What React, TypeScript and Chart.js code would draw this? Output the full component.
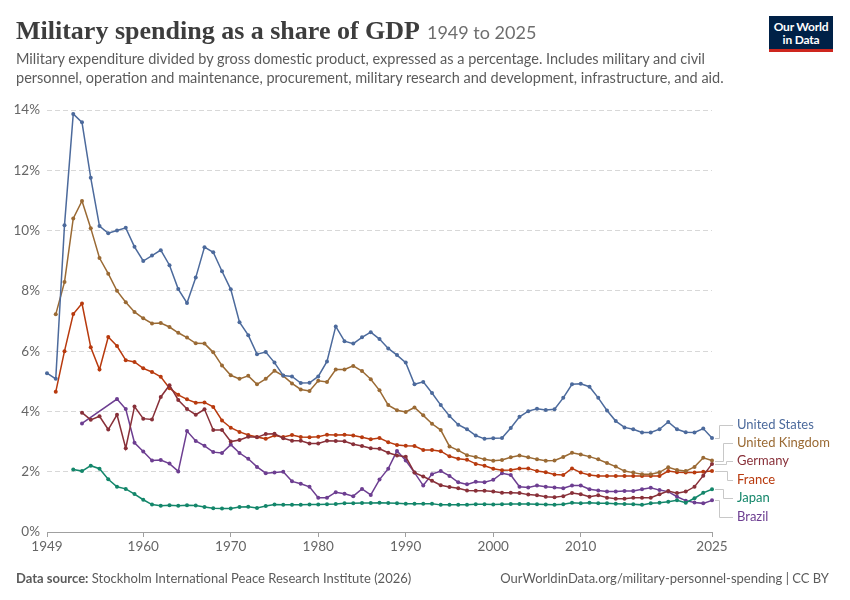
import React, { useEffect, useRef } from "react";
import { Chart, registerables } from "chart.js";

Chart.register(...registerables);

const years = [
  1949, 1950, 1951, 1952, 1953, 1954, 1955, 1956, 1957, 1958, 1959,
  1960, 1961, 1962, 1963, 1964, 1965, 1966, 1967, 1968, 1969,
  1970, 1971, 1972, 1973, 1974, 1975, 1976, 1977, 1978, 1979,
  1980, 1981, 1982, 1983, 1984, 1985, 1986, 1987, 1988, 1989,
  1990, 1991, 1992, 1993, 1994, 1995, 1996, 1997, 1998, 1999,
  2000, 2001, 2002, 2003, 2004, 2005, 2006, 2007, 2008, 2009,
  2010, 2011, 2012, 2013, 2014, 2015, 2016, 2017, 2018, 2019,
  2020, 2021, 2022, 2023, 2024, 2025,
];

const unitedStates = [
  5.27, 5.08, 10.18, 13.87, 13.59, 11.75, 10.15, 9.91, 10.0, 10.09, 9.46,
  8.99, 9.17, 9.35, 8.85, 8.06, 7.6, 8.44, 9.45, 9.28, 8.65,
  8.05, 6.96, 6.53, 5.9, 5.97, 5.62, 5.19, 5.16, 4.94, 4.95,
  5.16, 5.66, 6.82, 6.33, 6.25, 6.46, 6.63, 6.4, 6.09, 5.87,
  5.62, 4.9, 4.98, 4.61, 4.21, 3.85, 3.56, 3.41, 3.2, 3.09,
  3.11, 3.12, 3.45, 3.82, 4.01, 4.09, 4.05, 4.07, 4.45, 4.9,
  4.92, 4.82, 4.45, 4.03, 3.68, 3.47, 3.41, 3.3, 3.3, 3.41,
  3.65, 3.41, 3.31, 3.3, 3.43, 3.12,
];

const unitedKingdom = [
  null, 7.22, 8.29, 10.4, 10.98, 10.08, 9.09, 8.57, 8.0, 7.62, 7.3,
  7.09, 6.92, 6.93, 6.8, 6.61, 6.45, 6.26, 6.25, 5.96, 5.52,
  5.2, 5.08, 5.18, 4.9, 5.08, 5.35, 5.18, 4.93, 4.73, 4.68,
  5.02, 4.98, 5.39, 5.39, 5.51, 5.34, 5.07, 4.7, 4.21, 4.04,
  3.98, 4.13, 3.87, 3.59, 3.38, 2.84, 2.71, 2.55, 2.49, 2.41,
  2.36, 2.39, 2.48, 2.54, 2.48, 2.41, 2.36, 2.37, 2.49, 2.63,
  2.57, 2.5, 2.41, 2.29, 2.17, 2.02, 1.97, 1.92, 1.92, 1.98,
  2.15, 2.06, 2.02, 2.16, 2.46, 2.37,
];

const germany = [
  null, null, null, null, 3.96, 3.72, 3.84, 3.4, 3.89, 2.78, 4.16,
  3.76, 3.73, 4.48, 4.87, 4.38, 4.08, 3.89, 4.07, 3.38, 3.38,
  3.0, 3.05, 3.16, 3.14, 3.25, 3.26, 3.11, 3.03, 3.03, 2.94,
  2.94, 3.03, 3.02, 3.01, 2.91, 2.85, 2.78, 2.76, 2.63, 2.54,
  2.5, 1.97, 1.84, 1.7, 1.55, 1.49, 1.45, 1.38, 1.37, 1.37,
  1.34, 1.3, 1.3, 1.29, 1.24, 1.22, 1.17, 1.15, 1.19, 1.29,
  1.25, 1.17, 1.22, 1.14, 1.1, 1.1, 1.14, 1.14, 1.14, 1.25,
  1.36, 1.29, 1.34, 1.5, 1.87, 2.26,
];

const france = [
  null, 4.65, 6.0, 7.23, 7.58, 6.13, 5.39, 6.47, 6.17, 5.7, 5.64,
  5.43, 5.31, 5.15, 4.77, 4.55, 4.4, 4.29, 4.3, 4.15, 3.7,
  3.46, 3.32, 3.22, 3.15, 3.09, 3.2, 3.15, 3.22, 3.15, 3.14,
  3.16, 3.23, 3.22, 3.23, 3.2, 3.14, 3.08, 3.12, 2.98, 2.89,
  2.86, 2.85, 2.72, 2.72, 2.68, 2.51, 2.43, 2.4, 2.26, 2.2,
  2.1, 2.05, 2.06, 2.11, 2.11, 2.02, 1.98, 1.91, 1.89, 2.11,
  1.97, 1.89, 1.86, 1.86, 1.86, 1.86, 1.86, 1.86, 1.86, 1.86,
  2.02, 1.98, 1.97, 1.97, 2.0, 2.02,
];

const japan = [
  null, null, null, 2.07, 2.02, 2.2, 2.1, 1.75, 1.5, 1.43, 1.26,
  1.07, 0.91, 0.87, 0.89, 0.87, 0.89, 0.88, 0.83, 0.79, 0.78,
  0.78, 0.83, 0.84, 0.8, 0.86, 0.91, 0.9, 0.9, 0.9, 0.91,
  0.91, 0.92, 0.93, 0.95, 0.95, 0.96, 0.96, 0.97, 0.96, 0.95,
  0.94, 0.94, 0.94, 0.94, 0.9, 0.9, 0.9, 0.9, 0.92, 0.92,
  0.91, 0.92, 0.93, 0.93, 0.93, 0.92, 0.91, 0.9, 0.92, 0.97,
  0.95, 0.97, 0.95, 0.95, 0.94, 0.93, 0.92, 0.9, 0.95, 0.97,
  1.0, 1.05, 0.97, 1.12, 1.3, 1.42,
];

const brazil = [
  null, null, null, null, 3.6, null, null, null, 4.41, 4.08, 2.96,
  2.67, 2.37, 2.39, 2.27, 2.01, 3.35, 3.02, 2.86, 2.65, 2.62,
  2.9, 2.62, 2.43, 2.16, 1.95, 1.97, 2.0, 1.68, 1.6, 1.5,
  1.14, 1.14, 1.32, 1.27, 1.19, 1.43, 1.23, 1.74, 2.1, 2.69,
  2.37, 1.97, 1.54, 1.92, 2.02, 1.86, 1.65, 1.58, 1.67, 1.65,
  1.73, 1.95, 1.89, 1.5, 1.48, 1.54, 1.5, 1.48, 1.45, 1.54,
  1.54, 1.42, 1.38, 1.34, 1.34, 1.36, 1.36, 1.42, 1.47, 1.39,
  1.34, 1.17, 1.04, 0.98, 0.95, 1.05,
];

const seriesNames = ["United States", "United Kingdom", "Germany", "France", "Japan", "Brazil"];
const seriesValues = [unitedStates, unitedKingdom, germany, france, japan, brazil];
const seriesColors = ["#4c6a9c", "#9a6a34", "#883039", "#b83a0e", "#13866a", "#6d3e91"];
const connectorX = [719, 723, 726, 727, 723, 719];

const xTickValues = [1949, 1960, 1970, 1980, 1990, 2000, 2010, 2025];
const yTickValues = [0, 2, 4, 6, 8, 10, 12, 14];

const LABEL_X = 737;
const LABEL_GAP = 18.4;

const endLabels = {
  id: "endLabels",
  afterDatasetsDraw(chart: any) {
    const ctx = chart.ctx;
    const items: any[] = chart.data.datasets.map((ds: any, i: number) => {
      const meta = chart.getDatasetMeta(i);
      let p: any = null;
      for (let k = meta.data.length - 1; k >= 0; k--) {
        if (!meta.data[k].skip) {
          p = meta.data[k];
          break;
        }
      }
      return { i, x: p.x, y: p.y, label: ds.label, color: ds.borderColor, ly: p.y };
    });
    const sorted = [...items].sort((a, b) => a.y - b.y);
    let clusters: any[] = sorted.map((it) => ({ items: [it], center: it.y }));
    let changed = true;
    while (changed) {
      changed = false;
      for (let c = 0; c < clusters.length - 1; c++) {
        const a = clusters[c];
        const b = clusters[c + 1];
        const aBottom = a.center + ((a.items.length - 1) * LABEL_GAP) / 2;
        const bTop = b.center - ((b.items.length - 1) * LABEL_GAP) / 2;
        if (bTop - aBottom < LABEL_GAP) {
          const its = a.items.concat(b.items);
          const center = its.reduce((s: number, it: any) => s + it.y, 0) / its.length;
          clusters.splice(c, 2, { items: its, center });
          changed = true;
          break;
        }
      }
    }
    clusters.forEach((cl) =>
      cl.items.forEach((it: any, k: number) => {
        it.ly = cl.center + (k - (cl.items.length - 1) / 2) * LABEL_GAP;
      })
    );
    ctx.save();
    ctx.strokeStyle = "#c8c8c8";
    ctx.lineWidth = 1;
    items.forEach((it) => {
      const vx = connectorX[it.i];
      ctx.beginPath();
      ctx.moveTo(it.x + 3, Math.round(it.y) + 0.5);
      ctx.lineTo(vx + 0.5, Math.round(it.y) + 0.5);
      ctx.lineTo(vx + 0.5, Math.round(it.ly) + 0.5);
      ctx.lineTo(LABEL_X - 4, Math.round(it.ly) + 0.5);
      ctx.stroke();
    });
    ctx.font = "13px Lato";
    ctx.textBaseline = "middle";
    ctx.textAlign = "left";
    items.forEach((it) => {
      ctx.fillStyle = it.color;
      ctx.fillText(it.label, LABEL_X, it.ly);
    });
    ctx.restore();
  },
};

function LineChart() {
  const ref = useRef<HTMLCanvasElement | null>(null);
  useEffect(() => {
    if (!ref.current) return;
    const datasets = seriesNames.map((name, i) => ({
      label: name,
      data: years.map((yr, k) => ({ x: yr, y: seriesValues[i][k] })),
      borderColor: seriesColors[i],
      backgroundColor: seriesColors[i],
      borderWidth: 1.5,
      pointRadius: 2,
      pointBorderWidth: 0,
      pointHoverRadius: 2,
      spanGaps: true,
      clip: false as any,
      tension: 0,
    }));
    const chart = new Chart(ref.current, {
      type: "line",
      data: { datasets },
      plugins: [endLabels],
      options: {
        animation: false,
        responsive: false,
        layout: { padding: { left: 0, top: 110, right: 138, bottom: 38 } },
        plugins: { legend: { display: false }, tooltip: { enabled: false } },
        scales: {
          x: {
            type: "linear",
            min: 1949,
            max: 2025,
            afterBuildTicks: (scale: any) => {
              scale.ticks = xTickValues.map((v) => ({ value: v }));
            },
            afterFit: (scale: any) => {
              scale.height = 30;
            },
            grid: { drawOnChartArea: false, drawTicks: true, tickLength: 5, color: "#a0a0a0" },
            border: { display: true, color: "#a0a0a0" },
            ticks: {
              autoSkip: false,
              maxRotation: 0,
              padding: 2,
              color: "#666",
              font: { family: "Lato", size: 13.5 },
              callback: (v: any) => String(v),
            },
          },
          y: {
            min: 0,
            max: 14,
            afterBuildTicks: (scale: any) => {
              scale.ticks = yTickValues.map((v) => ({ value: v }));
            },
            afterFit: (scale: any) => {
              scale.width = 47;
            },
            grid: { drawTicks: false, color: "#d8d8d8" },
            border: { display: false, dash: [5, 3] },
            ticks: {
              padding: 7,
              color: "#666",
              font: { family: "Lato", size: 13.5 },
              callback: (v: any) => v + "%",
            },
          },
        },
      },
    });
    return () => chart.destroy();
  }, []);
  return <canvas ref={ref} width={850} height={600} style={{ position: "absolute", left: 0, top: 0 }} />;
}

export default function App() {
  return (
    <div
      style={{
        position: "absolute",
        left: 0,
        top: 0,
        width: 850,
        height: 600,
        background: "#fff",
        overflow: "hidden",
        fontFamily: "Lato, sans-serif",
      }}
    >
      <LineChart />
      <div
        style={{
          position: "absolute",
          left: 16,
          top: 16,
          lineHeight: "30px",
          whiteSpace: "nowrap",
        }}
      >
        <span
          style={{
            fontFamily: "'Liberation Serif', serif",
            fontWeight: 700,
            fontSize: 26,
            color: "#3d3d3d",
          }}
        >
          Military spending as a share of GDP
        </span>
        <span style={{ fontFamily: "Lato", fontSize: 18, color: "#6e6e6e", marginLeft: 7 }}>1949 to 2025</span>
      </div>
      <div
        style={{
          position: "absolute",
          left: 16,
          top: 50,
          fontSize: 14.5,
          lineHeight: "18.5px",
          color: "#5b5b5b",
          whiteSpace: "nowrap",
        }}
      >
        Military expenditure divided by gross domestic product, expressed as a percentage. Includes military and civil
        <br />
        personnel, operation and maintenance, procurement, military research and development, infrastructure, and aid.
      </div>
      <div
        style={{
          position: "absolute",
          left: 769,
          top: 16,
          width: 64,
          height: 36,
          background: "#002147",
          boxSizing: "border-box",
          borderBottom: "3px solid #ce261e",
          color: "#fff",
          fontWeight: 700,
          fontSize: 12,
          lineHeight: "13px",
          textAlign: "center",
          paddingTop: 4,
          letterSpacing: -0.2,
        }}
      >
        Our World
        <br />
        in Data
      </div>
      <div
        style={{
          position: "absolute",
          left: 16,
          top: 570,
          fontSize: 13,
          color: "#5b5b5b",
          whiteSpace: "nowrap",
        }}
      >
        <b>Data source:</b> Stockholm International Peace Research Institute (2026)
      </div>
      <div
        style={{
          position: "absolute",
          right: 21,
          top: 570,
          fontSize: 13,
          color: "#5b5b5b",
          whiteSpace: "nowrap",
        }}
      >
        OurWorldinData.org/military-personnel-spending | CC BY
      </div>
    </div>
  );
}
